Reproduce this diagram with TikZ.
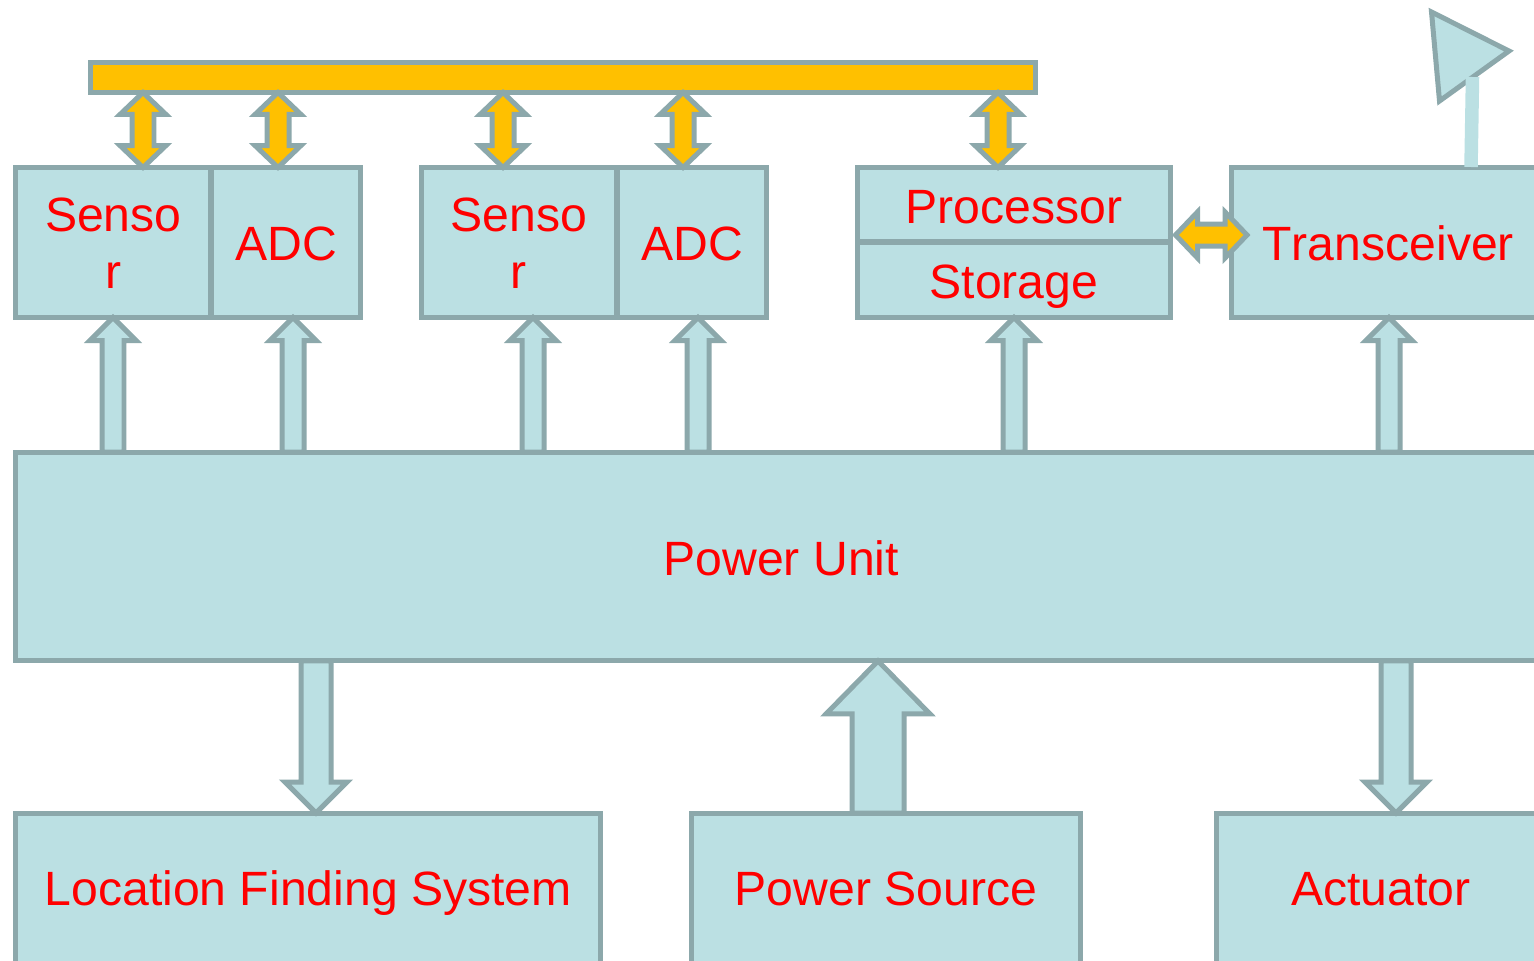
\documentclass[tikz,border=0pt]{standalone}
\usepackage{xcolor}
\usepackage{fontspec}
\usepackage{tikz}
\usetikzlibrary{calc}
\setmainfont[Kerning=Off]{Liberation Sans}
\definecolor{pale}{HTML}{BBE0E3}
\definecolor{edge}{HTML}{8CA8AB}
\definecolor{amber}{HTML}{FFC000}
\tikzstyle{block} = [rectangle, draw = edge, fill = pale, line width = .1cm, inner sep = 0, outer sep = 0, text = red, align = center, text height = .7cm, text depth = 0cm, font = \fontsize{27.4}{32.5}\selectfont]
\tikzstyle{twoline} = [text height = 1.83cm]
\tikzstyle{shelf} = [text height = .76cm]
\tikzstyle{low} = [text height = .64cm]
\tikzset{pipe/.style n args = {3}{draw = edge, fill = pale, line width = .1cm, to path = {
  ($(\tikztostart)!#1!90:(\tikztotarget)$)
  -- ($(\tikztotarget)!#3!(\tikztostart)!#1!90:(\tikztotarget)$)
  -- ($(\tikztotarget)!#3!(\tikztostart)!#2!90:(\tikztotarget)$)
  -- (\tikztotarget)
  -- ($(\tikztotarget)!#3!(\tikztostart)!#2!-90:(\tikztotarget)$)
  -- ($(\tikztotarget)!#3!(\tikztostart)!#1!-90:(\tikztotarget)$)
  -- ($(\tikztostart)!#1!-90:(\tikztotarget)$) -- cycle}}}
\tikzset{link/.style = {draw = edge, fill = amber, line width = .1cm, to path = {
  (\tikztostart)
  -- ($(\tikztostart)!.44cm!(\tikztotarget)!.46cm!90:(\tikztotarget)$)
  -- ($(\tikztostart)!.44cm!(\tikztotarget)!.22cm!90:(\tikztotarget)$)
  -- ($(\tikztotarget)!.44cm!(\tikztostart)!.22cm!90:(\tikztotarget)$)
  -- ($(\tikztotarget)!.44cm!(\tikztostart)!.46cm!90:(\tikztotarget)$)
  -- (\tikztotarget)
  -- ($(\tikztotarget)!.44cm!(\tikztostart)!.46cm!-90:(\tikztotarget)$)
  -- ($(\tikztotarget)!.44cm!(\tikztostart)!.22cm!-90:(\tikztotarget)$)
  -- ($(\tikztostart)!.44cm!(\tikztotarget)!.22cm!-90:(\tikztotarget)$)
  -- ($(\tikztostart)!.44cm!(\tikztotarget)!.46cm!-90:(\tikztotarget)$) -- cycle}}}

\begin{document}
\begin{tikzpicture}[x = .02cm, y = -.02cm]
\useasboundingbox (0, 0) rectangle (1534, 960);
% top row
\node [block, text height = 0cm, fill = amber, minimum width = 18.91cm, minimum height = .61cm] (bus) at (563.25, 77.25) {};
\node [block, twoline, minimum width = 3.91cm, minimum height = 3cm] (sensorA) at (113.25, 242.5) {Senso\\r};
\node [block, minimum width = 3cm, minimum height = 3cm] (adcA) at (286, 242.5) {ADC};
\node [block, twoline, minimum width = 3.92cm, minimum height = 3cm] (sensorB) at (519, 242.5) {Senso\\r};
\node [block, minimum width = 3cm, minimum height = 3cm] (adcB) at (692, 242.5) {ADC};
\node [block, shelf, minimum width = 6.28cm, minimum height = 1.49cm] (processor) at (1014, 204.75) {Processor};
\node [block, shelf, minimum width = 6.28cm, minimum height = 1.51cm] (storage) at (1014, 279.75) {Storage};
\node [block, minimum width = 6.27cm, minimum height = 3cm] (transceiver) at (1388.25, 242.5) {Transceiver};
% middle and bottom
\node [block, shelf, minimum width = 30.63cm, minimum height = 4.18cm] (power) at (781.25, 556.5) {Power Unit};
\node [block, low, minimum width = 11.71cm, minimum height = 3.04cm] (location) at (308.25, 889) {Location Finding System};
\node [block, low, minimum width = 7.8cm, minimum height = 3.04cm] (source) at (886, 889) {Power Source};
\node [block, low, minimum width = 6.6cm, minimum height = 3.04cm] (actuator) at (1381, 889) {Actuator};
% free ends
\foreach \name/\xpos in {sensorA/113, adcA/293, sensorB/533, adcB/698, storage/1014, transceiver/1389}
  \coordinate (\name-in) at (\xpos, 317.5);
\foreach \name/\xpos in {sensorA/143, adcA/278, sensorB/503, adcB/683, processor/998}
  \coordinate (\name-up) at (\xpos, 167.5);
\coordinate (location-in) at (316, 813);
\coordinate (source-out) at (878, 813);
\coordinate (actuator-in) at (1396, 813);
\coordinate (processor-out) at (1175.5, 235);
\coordinate (transceiver-side) at (1247, 235);
\coordinate (mast-top) at (1472.5, 77);
\coordinate (mast-foot) at (1471, 167);
\coordinate (dish-a) at (1431.5, 12);
\coordinate (dish-b) at (1509, 51);
\coordinate (dish-c) at (1439.5, 101);
% connectors
\foreach \name in {sensorA, adcA, sensorB, adcB, storage, transceiver}
  \draw [pipe = {.22cm}{.46cm}{.46cm}] (power.north -| \name-in) to (\name-in);
\foreach \name in {sensorA, adcA, sensorB, adcB, processor}
  \draw [link] (bus.south -| \name-up) to (\name-up);
\draw [link] (processor-out) to (transceiver-side);
\draw [pipe = {.3cm}{.62cm}{.62cm}] (power.south -| location-in) to (location-in);
\draw [pipe = {.3cm}{.62cm}{.62cm}] (power.south -| actuator-in) to (actuator-in);
\draw [pipe = {.52cm}{1.04cm}{1.06cm}] (source-out) to (power.south -| source-out);
% antenna
\draw [draw = edge, fill = pale, line width = .1cm] (dish-a) -- (dish-b) -- (dish-c) -- cycle;
\draw [draw = pale, line width = .27cm] (mast-top) to (mast-foot);
\end{tikzpicture}
\end{document}
